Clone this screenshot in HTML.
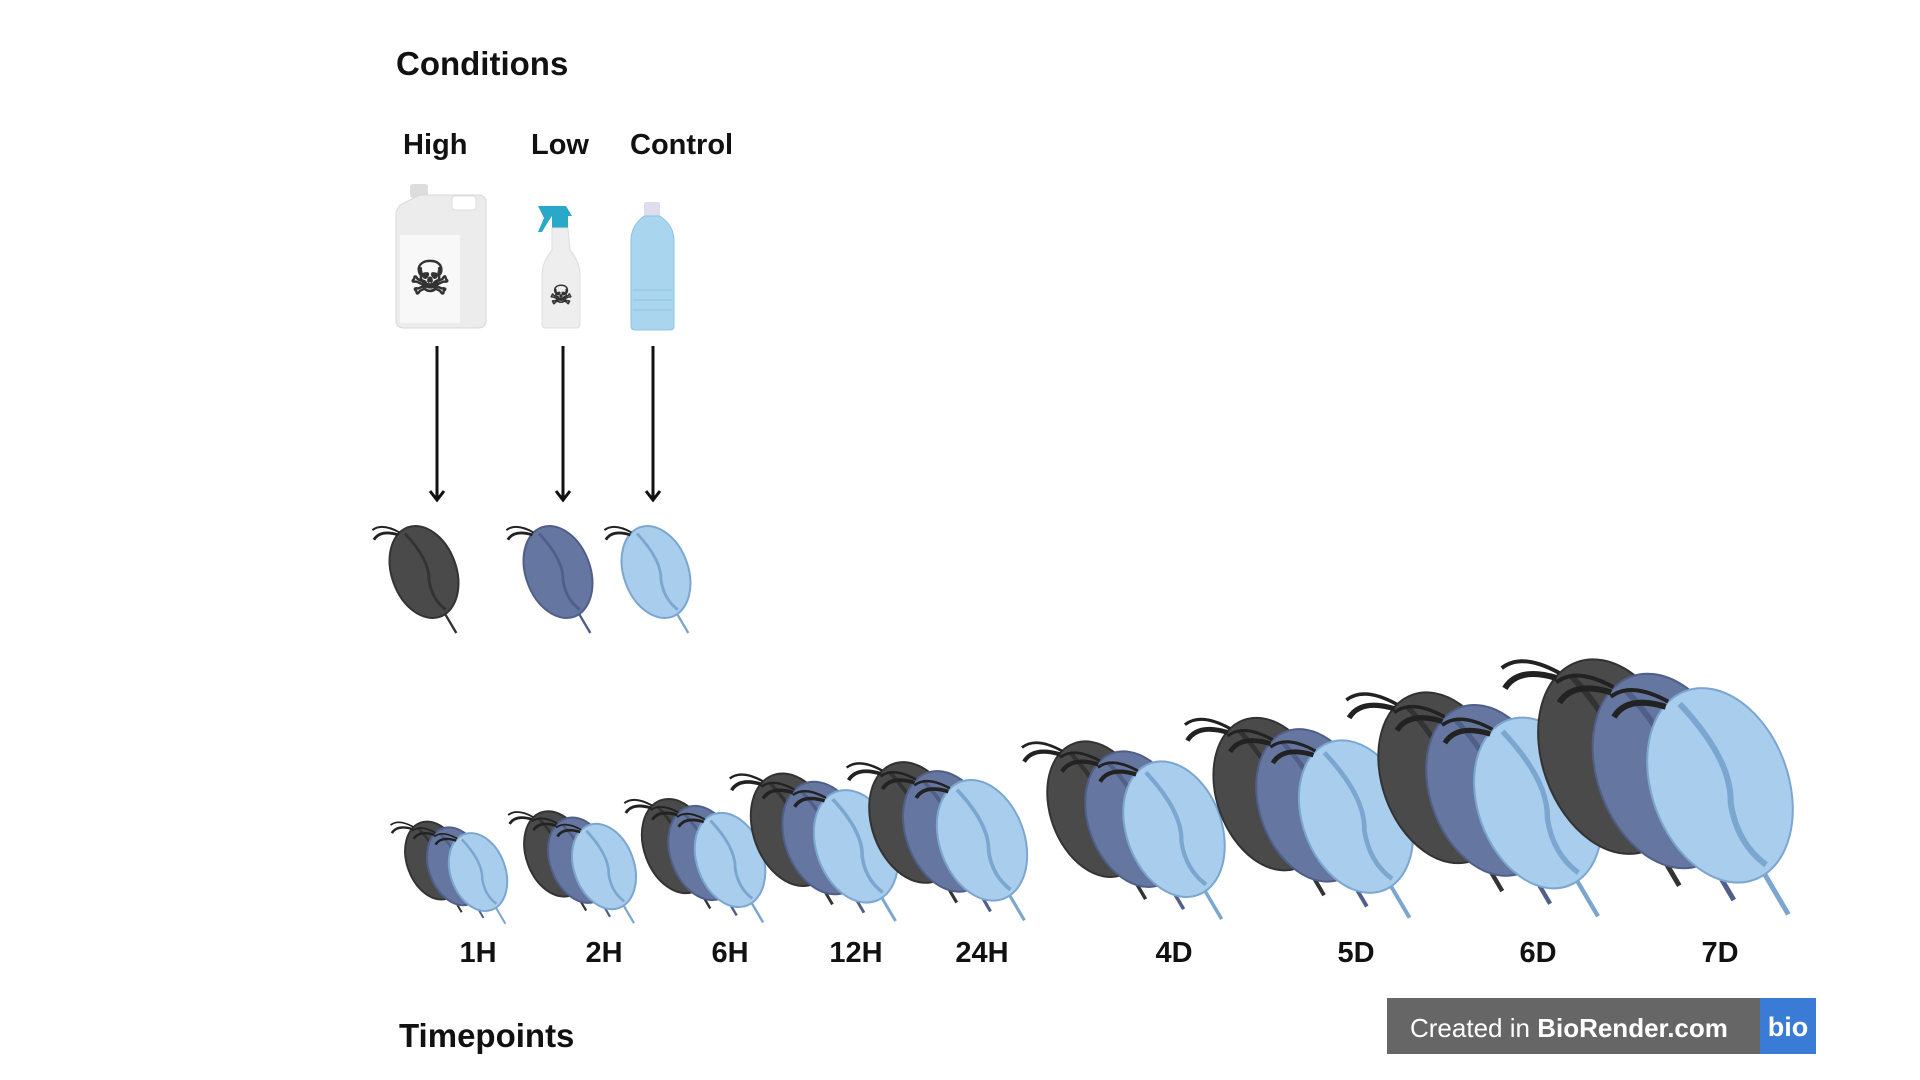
<!DOCTYPE html>
<html><head><meta charset="utf-8"><style>
html,body{margin:0;padding:0;background:#fff;width:1920px;height:1080px;overflow:hidden}
svg{display:block}
text{font-family:"Liberation Sans",sans-serif;font-weight:bold;fill:#111}
</style></head><body>
<svg id="fig" width="1920" height="1080" viewBox="0 0 1920 1080" xmlns="http://www.w3.org/2000/svg">
<text x="396" y="75" font-size="33">Conditions</text>
<text x="403" y="154" font-size="29">High</text>
<text x="531" y="154" font-size="29">Low</text>
<text x="630" y="154" font-size="29">Control</text>

<g>
<rect x="410" y="184" width="18" height="14" rx="3" fill="#ddd"/>
<path d="M400 205 L420 195 H478 Q486 195 486 203 V320 Q486 328 478 328 H404 Q396 328 396 320 V212 Z" fill="#ececec" stroke="#d8d8d8"/>
<rect x="452" y="196" width="24" height="14" rx="3" fill="#fff" stroke="#ddd"/>
<rect x="400" y="235" width="60" height="88" fill="#f8f8f8"/>
<text x="430" y="294" font-size="46" text-anchor="middle" style="fill:#333">☠</text>
</g>
<g>
<path d="M538 206 H566 L572 216 H552 L548 222 L542 232 H538 L544 218 Z" fill="#2aa8c8"/>
<rect x="552" y="216" width="16" height="12" fill="#2aa8c8"/>
<path d="M552 228 H568 L570 250 Q580 262 580 275 V324 Q580 328 576 328 H546 Q542 328 542 324 V275 Q542 262 552 250 Z" fill="#eee" stroke="#ddd"/>
<text x="561" y="304" font-size="26" text-anchor="middle" style="fill:#333">☠</text>
</g>
<g>
<rect x="644" y="202" width="16" height="14" rx="2" fill="#dde"/>
<path d="M644 216 H660 Q674 226 674 240 V326 Q674 330 670 330 H635 Q631 330 631 326 V240 Q631 226 644 216 Z" fill="#a9d6ee" stroke="#8cc4e2"/>
<g stroke="#8cc4e2" stroke-width="1"><line x1="633" y1="290" x2="672" y2="290"/><line x1="633" y1="300" x2="672" y2="300"/><line x1="633" y1="310" x2="672" y2="310"/></g>
</g>

<g id="arrows" stroke="#111" stroke-width="3" fill="none"></g>
<g id="singles"></g>
<g id="groups"></g>
<g id="labels"></g>

<text x="399" y="1047" font-size="33">Timepoints</text>

<g>
<rect x="1387" y="998" width="373" height="56" fill="#666"/>
<rect x="1760" y="998" width="56" height="56" fill="#3a7bd5"/>
<text x="1410" y="1037" font-size="26" style="fill:#fff;font-weight:normal">Created in <tspan style="font-weight:bold">BioRender.com</tspan></text>
<text x="1788" y="1036" font-size="27" text-anchor="middle" style="fill:#fff">bio</text>
</g>
</svg>
<script>
const conditions=["High","Low","Control"];
const conditionColors=["#4a4a4a","#6576a0","#a9cdec"];
const timepoints=["1H","2H","6H","12H","24H","4D","5D","6D","7D"];
const groupSizes=[115,126,139,166,178,200,225,252,287];

const NS="http://www.w3.org/2000/svg";
function mk(tag,attrs,parent){const e=document.createElementNS(NS,tag);for(const k in attrs)e.setAttribute(k,attrs[k]);parent.appendChild(e);return e;}
const strokeCols=["#333","#4f5f88","#7aa6cf"];
function daphnia(parent,cx,cy,h,ci){
  const g=mk('g',{transform:`translate(${cx},${cy}) rotate(-20)`},parent);
  
  
  const f=conditionColors[ci],s=strokeCols[ci];
  mk('path',{d:`M${0.05*h} ${0.45*h} L${0.1*h} ${0.72*h}`,stroke:s,'stroke-width':Math.max(2,h*0.025),fill:'none'},g);
  mk('ellipse',{cx:0,cy:0,rx:0.34*h,ry:0.5*h,fill:f,stroke:s,'stroke-width':2},g);
  mk('path',{d:`M${-0.05*h} ${-0.45*h} Q${0.1*h} ${-0.1*h} ${0.02*h} ${0.1*h} Q${-0.02*h} ${0.3*h} ${0.08*h} ${0.45*h}`,stroke:s,'stroke-width':Math.max(2,h*0.03),fill:'none'},g);
  mk('path',{d:`M${-0.12*h} ${-0.46*h} Q${-0.28*h} ${-0.58*h} ${-0.38*h} ${-0.5*h}`,stroke:'#222','stroke-width':Math.max(2,h*0.03),fill:'none'},g);
  mk('path',{d:`M${-0.1*h} ${-0.48*h} Q${-0.24*h} ${-0.64*h} ${-0.36*h} ${-0.6*h}`,stroke:'#222','stroke-width':Math.max(1.5,h*0.02),fill:'none'},g);
}
const arrowsG=document.getElementById('arrows'),singlesG=document.getElementById('singles');
const condX=i=>[437,563,653][i];
conditions.forEach((c,i)=>{
  const x=condX(i);
  const l=mk('path',{d:`M${x} 346 V500 M${x-7} 491 L${x} 500 L${x+7} 491`},arrowsG);
  
  
  daphnia(singlesG,x-13+i*8,572,95,i);
});
const groupsG=document.getElementById('groups'),labelsG=document.getElementById('labels');
let lx=478;
timepoints.forEach((t,i)=>{
  const H=groupSizes[i];
  if(i>0){
    const hourStep=timepoints[i].endsWith('H');
    lx+=hourStep?126:(timepoints[i-1].endsWith('H')?192:182);
  }
  const cx=lx-0.19*H;
  const g=mk('g',{},groupsG);
  
  
  const bh=H*0.7;
  for(let k=0;k<3;k++){
    const cy=930-0.72*bh-(2-k)*0.05*H;
    daphnia(g,cx-0.19*H+k*0.19*H,cy,bh,k);
  }
  const tx=mk('text',{x:lx,y:962,'font-size':29,'text-anchor':'middle'},labelsG);
  tx.textContent=t;
  
  
});
</script>
</body></html>
